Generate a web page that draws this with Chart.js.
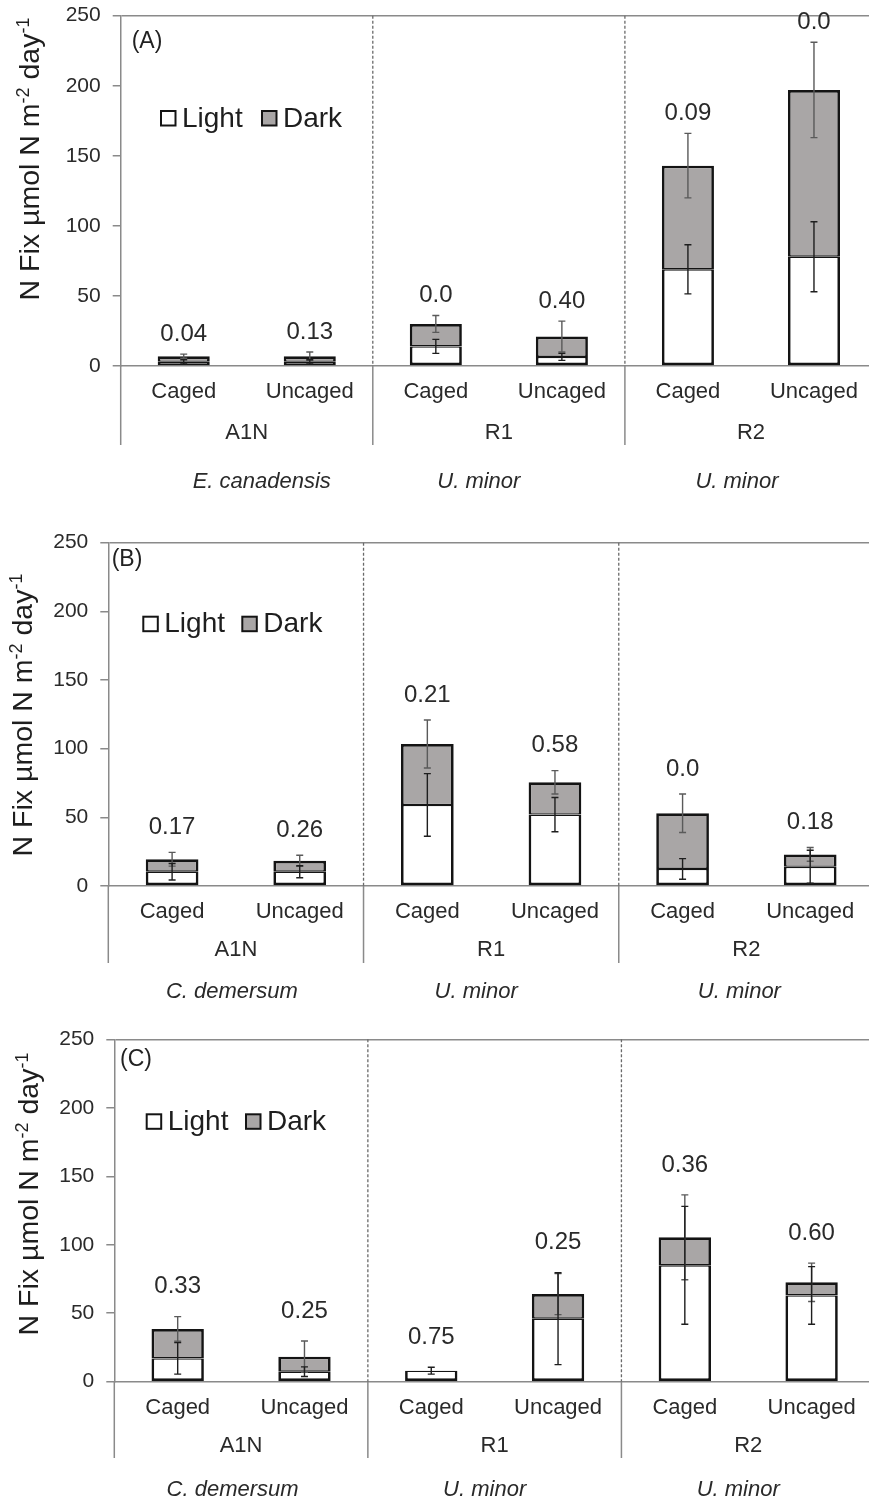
<!DOCTYPE html>
<html>
<head>
<meta charset="utf-8">
<script src="https://cdn.jsdelivr.net/npm/chart.js@4.4.1/dist/chart.umd.min.js"></script>
<style>
html,body{margin:0;padding:0;background:#fff;overflow:hidden;width:869px;height:1502px;}
canvas{position:absolute;left:0;display:block;}
</style>
</head>
<body>
<canvas id="cA" width="877" height="505" style="top:0px;width:877px;height:505px"></canvas>
<canvas id="cB" width="874" height="505" style="top:505px;width:874px;height:505px"></canvas>
<canvas id="cC" width="875" height="492" style="top:1010px;width:875px;height:492px"></canvas>
<script>
// ---------------- DATA ----------------
const categories = ['Caged', 'Uncaged', 'Caged', 'Uncaged', 'Caged', 'Uncaged'];
const groupLabels = ['A1N', 'R1', 'R2'];
const yTicks = [0, 50, 100, 150, 200, 250];
const seriesNames = ['Light', 'Dark'];
const yTitle = ['N Fix µmol N m', '-2', ' day', '-1'];

const speciesA = ['E. canadensis', 'U. minor', 'U. minor'];
const lightA = [3, 3, 14, 6.5, 69, 78];
const darkA = [4, 4, 16, 14.5, 74, 119];
const lightErrA = [1.5, 1.5, 5, 2.5, 17.5, 25];
const darkErrA = [1.5, 3, 6, 11, 23, 34];
const pA = ['0.04', '0.13', '0.0', '0.40', '0.09', '0.0'];

const speciesB = ['C. demersum', 'U. minor', 'U. minor'];
const lightB = [10.4, 10.4, 59, 52, 12.4, 14];
const darkB = [9.1, 8, 44.4, 23.5, 40.6, 9];
const lightErrB = [6, 4.4, 22.8, 12.5, 7.5, 12];
const darkErrB = [5, 4, 17.5, 8.5, 14, 5];
const pB = ['0.17', '0.26', '0.21', '0.58', '0.0', '0.18'];

const speciesC = ['C. demersum', 'U. minor', 'U. minor'];
const lightC = [17, 7.3, 8, 46, 85, 63];
const darkC = [21.5, 11, 0, 18, 20.4, 9.6];
const lightErrC = [11.5, 3.5, 2.5, 33.5, 43, 21];
const darkErrC = [9, 11.4, 0, 15, 31, 14];
const pC = ['0.33', '0.25', '0.75', '0.25', '0.36', '0.60'];

// ---------------- STYLE / LAYOUT ----------------
const FONT = '"Liberation Sans", Arial, Helvetica, sans-serif';
const AXIS = '#8a8a8a';
const TXT = '#2a2a2a';
const EDGE = '#141414';
const GREY = '#a9a6a6';

const layoutA = {canvasTop: 0, canvasH: 505, plotTop: 15.7, plotLeft: 120.7, plotH: 350.3,
  letter: '(A)', letDx: 11, letDy: 26, legDx: 40.3, legDy: 95.3, leg2Dx: 141.3,
  titleX: 39, titleCY: 159, pOff: 20, groupDy: 67, speciesDy: 116, lineLen: 79,
  speciesShift: [15, -20, -14]};
const layoutB = {canvasTop: 505, canvasH: 505, plotTop: 37.7, plotLeft: 108.3, plotH: 343.3,
  letter: '(B)', letDx: 3.4, letDy: 16.6, legDx: 35, legDy: 74, leg2Dx: 134,
  titleX: 31.7, titleCY: 715, pOff: 25, groupDy: 64, speciesDy: 105.7, lineLen: 77,
  speciesShift: [-4, -15, -7]};
const layoutC = {canvasTop: 1010, canvasH: 492, plotTop: 29.3, plotLeft: 114.3, plotH: 342.4,
  letter: '(C)', letDx: 5.7, letDy: 20, legDx: 32.4, legDy: 75, leg2Dx: 131.7,
  titleX: 38.3, titleCY: 1194, pOff: 30, groupDy: 64.3, speciesDy: 108.3, lineLen: 76.3,
  speciesShift: [-8.5, -10, -10]};

const overlayPlugin = {
  id: 'overlay',
  afterDatasetsDraw(chart, args, opts) {
    const L = opts.L, d = opts.d;
    const ctx = chart.ctx;
    const xs = chart.scales.x, ys = chart.scales.y;
    const ca = chart.chartArea;
    ctx.save();

    // error bars
    const drawErr = (x, v, e, color) => {
      if (!e) return;
      const y1 = ys.getPixelForValue(v + e), y2 = ys.getPixelForValue(Math.max(v - e, 0));
      ctx.strokeStyle = color; ctx.lineWidth = 1.4;
      ctx.beginPath();
      ctx.moveTo(x, y1); ctx.lineTo(x, y2);
      ctx.moveTo(x - 3.5, y1); ctx.lineTo(x + 3.5, y1);
      ctx.moveTo(x - 3.5, y2); ctx.lineTo(x + 3.5, y2);
      ctx.stroke();
    };
    for (let i = 0; i < categories.length; i++) {
      const x = xs.getPixelForValue(i);
      drawErr(x, d.dark[i] + d.light[i], d.darkErr[i], '#5a5a5a');
      drawErr(x, d.light[i], d.lightErr[i], '#1e1e1e');
      // p labels
      const topV = Math.max(d.light[i] + d.dark[i] + d.darkErr[i], d.light[i] + d.lightErr[i]);
      ctx.fillStyle = TXT; ctx.font = '24px ' + FONT;
      ctx.textAlign = 'center'; ctx.textBaseline = 'middle';
      ctx.fillText(d.p[i], x, ys.getPixelForValue(topV) - L.pOff);
    }

    // group dividers
    const bounds = [ca.left];
    for (let g = 1; g < groupLabels.length; g++) {
      bounds.push((xs.getPixelForValue(2 * g - 1) + xs.getPixelForValue(2 * g)) / 2);
    }
    bounds.push(ca.right);
    ctx.strokeStyle = '#6a6a6a'; ctx.lineWidth = 1.3;
    ctx.setLineDash([3, 2]);
    ctx.beginPath();
    for (let g = 1; g < groupLabels.length; g++) {
      ctx.moveTo(bounds[g], ca.top); ctx.lineTo(bounds[g], ca.bottom);
    }
    ctx.stroke();
    ctx.setLineDash([]);
    ctx.strokeStyle = AXIS; ctx.lineWidth = 1.5;
    ctx.beginPath();
    bounds.forEach(b => { ctx.moveTo(b, ca.bottom); ctx.lineTo(b, ca.bottom + L.lineLen); });
    ctx.stroke();

    // group and species labels
    ctx.fillStyle = TXT; ctx.textAlign = 'center'; ctx.textBaseline = 'middle';
    for (let g = 0; g < groupLabels.length; g++) {
      const cx = (xs.getPixelForValue(2 * g) + xs.getPixelForValue(2 * g + 1)) / 2;
      ctx.font = '22px ' + FONT;
      ctx.fillText(groupLabels[g], cx, ca.bottom + L.groupDy);
      ctx.font = 'italic 22px ' + FONT;
      ctx.fillText(d.species[g], cx + L.speciesShift[g], ca.bottom + L.speciesDy);
    }

    // panel letter
    ctx.font = '23px ' + FONT; ctx.textAlign = 'left'; ctx.fillStyle = '#222';
    ctx.fillText(L.letter, ca.left + L.letDx, ca.top + L.letDy);

    // legend
    const fills = ['#ffffff', GREY];
    const lx = [L.legDx, L.leg2Dx];
    ctx.font = '28px ' + FONT; ctx.textBaseline = 'middle';
    for (let k = 0; k < 2; k++) {
      const bx = ca.left + lx[k], by = ca.top + L.legDy;
      ctx.fillStyle = fills[k]; ctx.fillRect(bx, by, 14.5, 14.5);
      ctx.strokeStyle = EDGE; ctx.lineWidth = 2; ctx.strokeRect(bx, by, 14.5, 14.5);
      ctx.fillStyle = '#1e1e1e';
      ctx.fillText(seriesNames[k], bx + 21, by + 8);
    }

    // y title with superscripts
    const mainF = '28.5px ' + FONT, supF = '18px ' + FONT;
    const parts = yTitle.map((t, i) => ({t, sup: i % 2 === 1}));
    let total = 0;
    parts.forEach(p => { ctx.font = p.sup ? supF : mainF; p.w = ctx.measureText(p.t).width; total += p.w; });
    ctx.translate(L.titleX, L.titleCY - L.canvasTop);
    ctx.rotate(-Math.PI / 2);
    ctx.textAlign = 'left'; ctx.textBaseline = 'alphabetic'; ctx.fillStyle = '#1e1e1e';
    let px = -total / 2;
    parts.forEach(p => {
      ctx.font = p.sup ? supF : mainF;
      ctx.fillText(p.t, px, p.sup ? -10 : 0);
      px += p.w;
    });
    ctx.restore();
  }
};

function makePanel(id, L, d) {
  new Chart(document.getElementById(id), {
    type: 'bar',
    data: {
      labels: categories,
      datasets: [
        {label: seriesNames[0], data: d.light, backgroundColor: '#ffffff', borderColor: EDGE,
         borderWidth: {left: 2.7, right: 2.7, bottom: 2.7, top: 1.35}, borderSkipped: false,
         barPercentage: 0.413, categoryPercentage: 1},
        {label: seriesNames[1], data: d.dark, backgroundColor: GREY, borderColor: EDGE,
         borderWidth: {left: 2.7, right: 2.7, top: 2.7, bottom: 1.35}, borderSkipped: false,
         barPercentage: 0.413, categoryPercentage: 1}
      ]
    },
    options: {
      responsive: false, animation: false, devicePixelRatio: 1,
      layout: {padding: {top: L.plotTop, left: 0, right: 0, bottom: 0}},
      plugins: {legend: {display: false}, tooltip: {enabled: false}, overlay: {L, d}},
      scales: {
        x: {
          stacked: true, offset: true,
          grid: {display: false, drawTicks: false},
          border: {display: true, color: AXIS, width: 1.5},
          ticks: {font: {family: FONT, size: 22}, color: TXT, padding: 13, maxRotation: 0, minRotation: 0, autoSkip: false},
          afterFit: s => { s.height = L.canvasH - L.plotTop - L.plotH; s.paddingLeft = 0; s.paddingRight = 0; }
        },
        y: {
          stacked: true, min: 0, max: 250,
          afterBuildTicks: s => { s.ticks = yTicks.map(v => ({value: v})); },
          ticks: {font: {family: FONT, size: 21}, color: TXT, padding: 12},
          grid: {color: c => (c.tick && c.tick.value === 250) ? AXIS : 'rgba(0,0,0,0)',
                 lineWidth: 1.5, tickLength: 8, tickColor: AXIS, tickWidth: 1.5},
          border: {color: AXIS, width: 1.5},
          afterFit: s => { s.width = L.plotLeft; s.paddingTop = 0; s.paddingBottom = 0; }
        }
      }
    },
    plugins: [overlayPlugin]
  });
}

makePanel('cA', layoutA, {light: lightA, dark: darkA, lightErr: lightErrA, darkErr: darkErrA, p: pA, species: speciesA});
makePanel('cB', layoutB, {light: lightB, dark: darkB, lightErr: lightErrB, darkErr: darkErrB, p: pB, species: speciesB});
makePanel('cC', layoutC, {light: lightC, dark: darkC, lightErr: lightErrC, darkErr: darkErrC, p: pC, species: speciesC});
</script>
</body>
</html>
